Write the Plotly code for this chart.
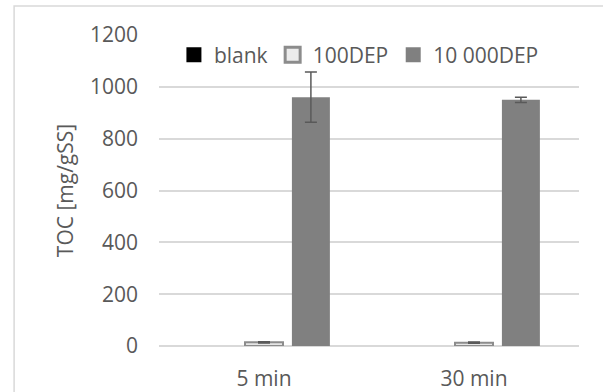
import plotly.graph_objects as go

# Sampling times and TOC release per dose
categories = ["5 min", "30 min"]
blank = [0, 0]
dep100 = [14, 13]
dep100_err = [2, 2]
dep10000 = [960, 950]
dep10000_err = [97, 10]
y_ticks = [0, 200, 400, 600, 800, 1000, 1200]

FONT = "Open Sans"
TXT = "#595959"
GRID = "#d9d9d9"
ERR = "#595959"

fig = go.Figure()

fig.add_bar(
    x=categories, y=blank, name="blank",
    marker=dict(color="#000000", line=dict(width=0)),
    showlegend=False,
)
fig.add_bar(
    x=categories, y=dep100, name="100DEP",
    marker=dict(color="#e6e6e6", line=dict(color="#8c8c8c", width=2)),
    error_y=dict(type="data", array=dep100_err, color=ERR, thickness=1.5, width=6),
    showlegend=False,
)
fig.add_bar(
    x=categories, y=dep10000, name="10 000DEP",
    marker=dict(color="#808080", line=dict(width=0)),
    error_y=dict(type="data", array=dep10000_err, color=ERR, thickness=1.5, width=6),
    showlegend=False,
)

# Legend keys as square markers
for name, fill, edge, lw in [
    ("blank", "#000000", "#000000", 0),
    ("100DEP", "#ececec", "#8c8c8c", 3),
    ("10 000DEP", "#808080", "#808080", 0),
]:
    fig.add_scatter(
        x=[None], y=[None], mode="markers", name=name,
        marker=dict(symbol="square", size=15, color=fill, line=dict(color=edge, width=lw)),
        showlegend=True,
    )

fig.update_layout(
    width=603, height=392,
    margin=dict(l=159, r=24, t=35, b=46),
    paper_bgcolor="white", plot_bgcolor="white",
    font=dict(family=FONT, color=TXT, size=21),
    barmode="group", bargap=0.33, bargroupgap=0.19,
    legend=dict(
        orientation="h", x=0.476, xanchor="center", y=0.935, yanchor="middle",
        font=dict(size=21, color=TXT), bgcolor="rgba(0,0,0,0)",
        itemwidth=30, tracegroupgap=0,
    ),
    shapes=[dict(
        type="rect", xref="paper", yref="paper",
        x0=-0.345, x1=1.6, y0=-0.4, y1=1.093,
        line=dict(color=GRID, width=1.5), layer="below",
    )],
)

fig.update_xaxes(
    showgrid=False, showline=False, ticks="", zeroline=False, automargin=False,
    tickfont=dict(size=21, color=TXT), ticklabelstandoff=18,
)
fig.update_yaxes(
    range=[0, 1200], tickvals=y_ticks, showgrid=True, gridcolor=GRID, gridwidth=1.5,
    zeroline=True, zerolinecolor=GRID, zerolinewidth=1.5, automargin=False,
    showline=False, ticks="", ticklen=0,
    tickfont=dict(size=21, color=TXT), ticklabelstandoff=20,
    title=dict(text="TOC [mg/gSS]", font=dict(size=21, color=TXT), standoff=10),
)

fig.write_html("out.html")
